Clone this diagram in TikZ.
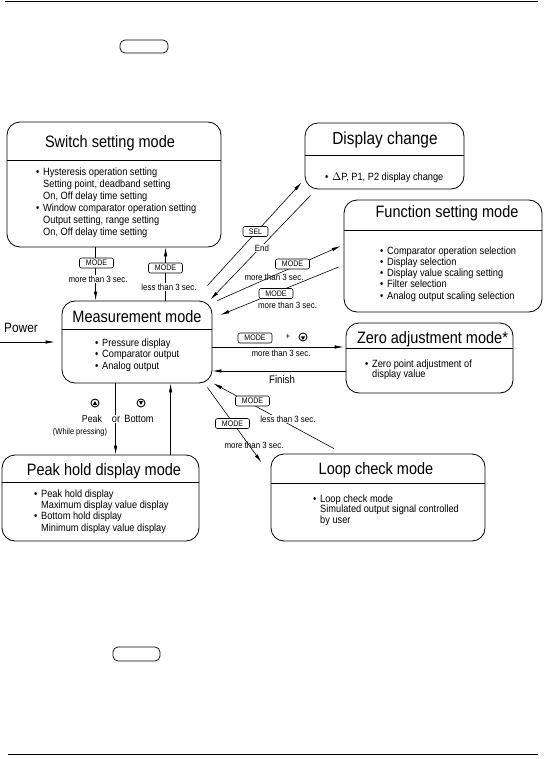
\documentclass[tikz,border=0pt]{standalone}
\usepackage{fontspec}
\setmainfont{Liberation Sans}[FakeStretch=0.88]
\usetikzlibrary{arrows.meta,shapes.geometric}

\tikzstyle{modebox} = [rectangle, rounded corners=13pt, draw=black, line width=0.8pt]
\tikzstyle{modetitle} = [font=\fontsize{16.5}{18}\selectfont, inner sep=0pt, text height=12pt, text depth=0pt]
\tikzstyle{modebody} = [font=\fontsize{10.5}{11.3}\selectfont, align=left, inner sep=0pt, anchor=base west]
\tikzstyle{keybox} = [rectangle, rounded corners=2pt, draw=black, fill=white, line width=0.6pt, minimum width=34pt, minimum height=10pt, inner sep=0pt, font=\fontsize{8}{8}\selectfont]
\tikzstyle{sublabel} = [font=\fontsize{9}{9}\selectfont, inner sep=0.5pt, fill=white]
\tikzstyle{keyname} = [font=\fontsize{10.5}{11}\selectfont, inner sep=1pt, anchor=base]
\tikzstyle{arrow} = [line width=0.6pt, -{Latex[length=9pt,width=3.4pt]}]
\tikzstyle{round-key} = [circle, draw=black, line width=0.9pt, minimum size=8pt, inner sep=0pt]
\tikzstyle{tri} = [regular polygon, regular polygon sides=3, fill=black, inner sep=0pt, minimum size=5pt]

\newcommand{\itm}[1]{\makebox[7pt][l]{\textbullet}#1}
\newcommand{\cnt}{\hspace*{7pt}}

\begin{document}
\begin{tikzpicture}[x=1pt, y=-1pt]
  \useasboundingbox (0,0) rectangle (544,759);

  % page rules and blank key symbols
  \draw [line width=1pt] (5,2) -- (538,2);
  \draw [line width=1pt] (8,754) -- (538,754);
  \draw [line width=0.7pt, rounded corners=5pt] (120,40) rectangle (168,53);
  \draw [line width=0.7pt, rounded corners=5pt] (113,647) rectangle (160,661);

  % mode boxes
  \node (sw) [modebox, minimum width=214pt, minimum height=125pt] at (114,184.5) {};
  \node (ds) [modebox, minimum width=159pt, minimum height=66pt] at (384.5,156) {};
  \node (fs) [modebox, minimum width=198pt, minimum height=112pt] at (443,256) {};
  \node (ms) [modebox, minimum width=150pt, minimum height=82pt] at (137,342) {};
  \node (zr) [modebox, minimum width=167pt, minimum height=70pt] at (429.5,358) {};
  \node (pk) [modebox, minimum width=197pt, minimum height=86pt] at (100.5,498) {};
  \node (lp) [modebox, minimum width=214pt, minimum height=87pt] at (378,497.5) {};

  \draw (sw.west |- 0,160) -- (sw.east |- 0,160);
  \draw (ds.west |- 0,155) -- (ds.east |- 0,155);
  \draw (fs.west |- 0,230) -- (fs.east |- 0,230);
  \draw (ms.west |- 0,329) -- (ms.east |- 0,329);
  \draw (zr.west |- 0,348) -- (zr.east |- 0,348);
  \draw (pk.west |- 0,482) -- (pk.east |- 0,482);
  \draw (lp.west |- 0,483) -- (lp.east |- 0,483);

  % titles
  \node (sw-title) [modetitle] at (110,142) {Switch setting mode};
  \node (ds-title) [modetitle, font=\fontsize{17.5}{19}\selectfont] at (385,139) {Display change};
  \node (fs-title) [modetitle] at (447,212) {Function setting mode};
  \node (ms-title) [modetitle] at (137,316) {Measurement mode};
  \node (zr-title) [modetitle] at (432.5,337) {Zero adjustment mode*};
  \node (lp-title) [modetitle] at (376,468) {Loop check mode};
  \node (pk-title) [modetitle] at (104,469) {Peak hold display mode};

  % contents (anchored at the baseline of the last line)
  \node (sw-text) [modebody, font=\fontsize{10.5}{11.8}\selectfont] at (36,235) {\itm{Hysteresis operation setting}\\ \cnt Setting point, deadband setting\\ \cnt On, Off delay time setting\\ \itm{Window comparator operation setting}\\ \cnt Output setting, range setting\\ \cnt On, Off delay time setting};
  \node (ds-text) [modebody] at (325,181) {\itm{$\Delta$P, P1, P2 display change}};
  \node (fs-text) [modebody, font=\fontsize{10.5}{11.2}\selectfont] at (380,299) {\itm{Comparator operation selection}\\ \itm{Display selection}\\ \itm{Display value scaling setting}\\ \itm{Filter selection}\\ \itm{Analog output scaling selection}};
  \node (ms-text) [modebody, font=\fontsize{10.5}{11.5}\selectfont] at (95,369) {\itm{Pressure display}\\ \itm{Comparator output}\\ \itm{Analog output}};
  \node (zr-text) [modebody, font=\fontsize{10.5}{10.5}\selectfont] at (365,377.5) {\itm{Zero point adjustment of}\\ \cnt display value};
  \node (pk-text) [modebody] at (34,531) {\itm{Peak hold display}\\ \cnt Maximum display value display\\ \itm{Bottom hold display}\\ \cnt Minimum display value display};
  \node (lp-text) [modebody, font=\fontsize{10.5}{10.5}\selectfont] at (313,523) {\itm{Loop check mode}\\ \cnt Simulated output signal controlled\\ \cnt by user};

  % power on
  \coordinate (pwr) at (0,342);
  \node (pwr-text) [font=\fontsize{13.5}{14}\selectfont, inner sep=0pt] at (21,328) {Power};
  \draw [arrow] (pwr) -- ([shift={(-7,0)}]ms.west);

  % switch setting mode
  \draw [arrow] ([shift={(89,0)}]sw.south west) -- ([shift={(34,0)}]ms.north west);
  \draw [arrow] ([shift={(104,0)}]ms.north west) -- ([shift={(159,0)}]sw.south west);
  \node (sw-key1) [keybox] at (96.5,263) {MODE};
  \node (sw-lbl1) [sublabel] at (98,279) {more than 3 sec.};
  \node (sw-key2) [keybox] at (165.5,268) {MODE};
  \node (sw-lbl2) [sublabel] at (169,287) {less than 3 sec.};

  % display change
  \draw [arrow] ([shift={(-5,-15)}]ms.north east) -- ([shift={(-3,-7)}]ds.south west);
  \draw [arrow] ([shift={(6,6)}]ds.south west) -- ([shift={(-2,-1)}]ms.north east);
  \node (ds-key) [keybox, minimum width=25pt] at (255.5,231.5) {SEL};
  \node (ds-lbl) [sublabel] at (262,248) {End};

  % function setting mode
  \draw [arrow] ([shift={(5,0)}]ms.north east) -- ([shift={(-3,-10)}]fs.west);
  \draw [arrow] ([shift={(-5,11)}]fs.west) -- ([shift={(8,-27)}]ms.east);
  \node (fs-key1) [keybox] at (292.5,264) {MODE};
  \node (fs-lbl1) [sublabel, fill=none] at (274,277) {more than 3 sec.};
  \node (fs-key2) [keybox] at (276,293.5) {MODE};
  \node (fs-lbl2) [sublabel, fill=none] at (287.5,305) {more than 3 sec.};

  % zero adjustment mode
  \draw [arrow] ([shift={(0,5)}]ms.east) -- ([shift={(-2,-11)}]zr.west);
  \draw [arrow] ([shift={(0,13)}]zr.west) -- ([shift={(0,29)}]ms.east);
  \node (zr-key) [keybox] at (255,338) {MODE};
  \node (zr-plus) [sublabel] at (288,337) {+};
  \node (zr-down) [round-key] at (303,337) {};
  \node (zr-tri) [tri, shape border rotate=180] at (303,337.6) {};
  \node (zr-lbl) [sublabel, fill=none] at (281,353) {more than 3 sec.};
  \node (zr-fin) [font=\fontsize{11}{12}\selectfont, inner sep=0pt] at (282,380) {Finish};

  % loop check mode
  \draw [arrow] ([shift={(-44,-5)}]lp.north) -- ([shift={(1,0)}]ms.south east);
  \draw [arrow] ([shift={(-5,4)}]ms.south east) -- ([shift={(-9,9)}]lp.north west);
  \node (lp-key1) [keybox] at (252.5,401) {MODE};
  \node (lp-lbl1) [sublabel] at (288,419) {less than 3 sec.};
  \node (lp-key2) [keybox] at (232.5,423.5) {MODE};
  \node (lp-lbl2) [sublabel, fill=none] at (254,445) {more than 3 sec.};

  % peak hold display mode
  \draw [arrow] ([shift={(54,0)}]ms.south west) -- ([shift={(114,0)}]pk.north west);
  \draw [arrow] ([shift={(169,0)}]pk.north west) -- ([shift={(109,0)}]ms.south west);
  \node (pk-up) [round-key] at (95,403) {};
  \node (pk-up-tri) [tri] at (95,403.6) {};
  \node (pk-down) [round-key] at (141,403) {};
  \node (pk-down-tri) [tri, shape border rotate=180] at (141,402.4) {};
  \node (pk-peak) [keyname, font=\fontsize{10}{11}\selectfont] at (92,422) {Peak};
  \node (pk-or) [keyname, fill=white] at (116,422) {or};
  \node (pk-bottom) [keyname] at (139,422) {Bottom};
  \node (pk-lbl) [font=\fontsize{8.5}{9}\selectfont, inner sep=0.5pt, fill=white] at (80,432) {(While pressing)};
\end{tikzpicture}
\end{document}
